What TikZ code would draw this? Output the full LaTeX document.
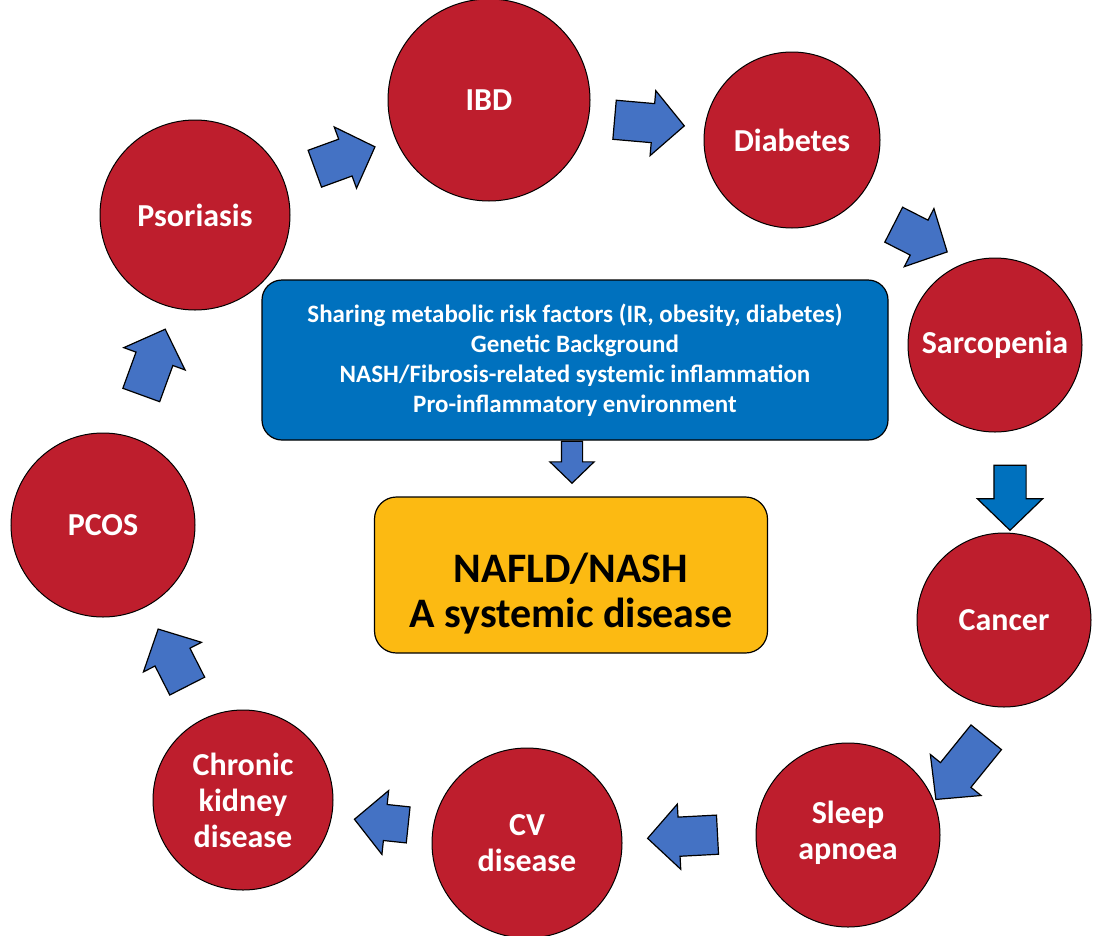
\documentclass[tikz,border=0pt]{standalone}
\usepackage{fontspec}
\setmainfont{Carlito}
\usetikzlibrary{shapes.arrows}
\definecolor{dzred}{RGB}{190,30,45}
\definecolor{boxblue}{RGB}{0,113,190}
\definecolor{boxyellow}{RGB}{252,186,18}
\definecolor{arrblue}{RGB}{68,114,196}

\begin{document}
\begin{tikzpicture}[x=1pt, y=-1pt,
    disease/.style={circle, draw=black, line width=1pt, fill=dzred, text=white, align=center, inner sep=0pt, font=\bfseries\fontsize{32}{36}\selectfont},
    factors/.style={draw=black, line width=1.2pt, rounded corners=20pt, fill=boxblue, text=white, align=center, minimum width=626pt, minimum height=160pt, font=\bfseries\fontsize{25}{30}\selectfont},
    result/.style={draw=black, line width=1.2pt, rounded corners=22pt, fill=boxyellow, minimum width=393pt, minimum height=156pt},
    resulttext/.style={align=center, inner sep=0pt, font=\bfseries\fontsize{42}{45}\selectfont},
    blkarr/.style={single arrow, draw=black, line width=1.2pt, fill=arrblue, inner xsep=0pt, inner ysep=19pt, single arrow head extend=13pt, single arrow tip angle=92, minimum height=70pt}
  ]
    \useasboundingbox (0,0) rectangle (1098,935);
    % diseases round the ring
    \node[disease, minimum size=202pt] (ibd) at (489,100) {IBD};
    \node[disease, minimum size=176pt] (dia) at (792,140) {Diabetes};
    \node[disease, minimum size=190pt] (pso) at (195,215) {Psoriasis};
    \node[disease, minimum size=174pt] (sar) at (995,345) {Sarcopenia};
    \node[disease, minimum size=184pt] (pcos) at (103,525) {PCOS};
    \node[disease, minimum size=174pt] (can) at (1004,620) {Cancer};
    \node[disease, minimum size=180pt] (ckd) at (243,800) {Chronic\\kidney\\disease};
    \node[disease, minimum size=190pt] (cv) at (527,843) {CV\\disease};
    \node[disease, minimum size=184pt] (slp) at (848,835) {Sleep\\apnoea\\[-26pt]};
    % centre boxes
    \node[factors] (risk) at (575,360) {Sharing metabolic risk factors (IR, obesity, diabetes)\\Genetic Background\\NASH/Fibrosis-related systemic inflammation\\Pro-inflammatory environment};
    \node[result] (nafld) at (571,575) {};
    \node[resulttext] (nafldtext) at ([yshift=-19pt]nafld.center) {NAFLD/NASH\\A systemic disease};
    % block arrows
    \node[blkarr, minimum height=64pt, rotate=20] (a1) at (336,161) {};
    \node[blkarr, rotate=-5] (a2) at (640,122) {};
    \node[blkarr, minimum height=60pt, rotate=-27] (a3) at (912,234) {};
    \node[blkarr, fill=boxblue, inner ysep=15.5pt, single arrow head extend=16.5pt, minimum height=65pt, rotate=-90] (a4) at (1010,490) {};
    \node[blkarr, minimum height=80pt, rotate=231] (a5) at (967,761) {};
    \node[blkarr, rotate=183] (a6) at (692,836) {};
    \node[blkarr, inner ysep=17.5pt, single arrow head extend=14pt, minimum height=54pt, rotate=174] (a7) at (390,823) {};
    \node[blkarr, minimum height=64pt, rotate=117] (a8) at (177,666) {};
    \node[blkarr, rotate=70] (a9) at (150,371) {};
    \node[blkarr, inner ysep=10pt, single arrow head extend=11.5pt, minimum height=42pt, rotate=-90, anchor=tail] (a10) at ([xshift=-3pt]risk.south) {};
  \end{tikzpicture}
\end{document}
